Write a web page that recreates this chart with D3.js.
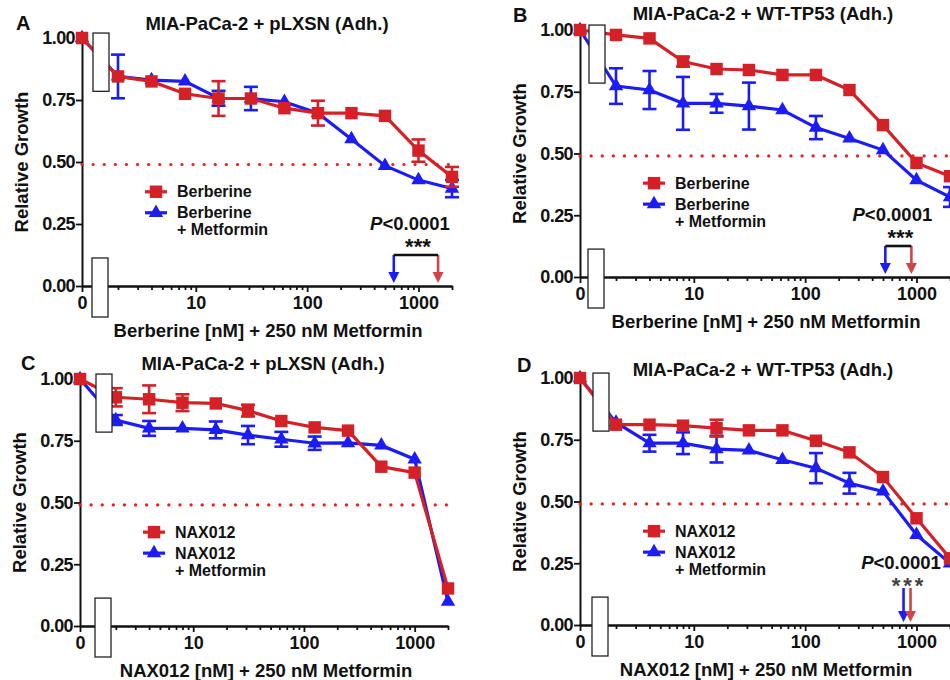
<!DOCTYPE html>
<html>
<head>
<meta charset="utf-8">
<script src="https://cdn.jsdelivr.net/npm/d3@7"></script>
<style>
  body { margin: 0; background: #fff; }
  svg text { font-family: "Liberation Sans", Arial, sans-serif; font-weight: bold; fill: #111; }
</style>
</head>
<body>
<div id="chart"></div>
<script>
// concentrations (nM), 0 = untreated control
const conc = [0, 2, 4, 8, 16, 31.25, 62.5, 125, 250, 500, 1000, 2000];

// A - Berberine on MIA-PaCa-2 + pLXSN
const berbA        = [1.00, 0.845, 0.825, 0.775, 0.756, 0.756, 0.717, 0.697, 0.697, 0.686, 0.546, 0.440];
const berbA_err    = [0, 0.01, 0.01, 0.015, 0.07, 0.01, 0.01, 0.05, 0.01, 0.01, 0.045, 0.04];
const berbMetA     = [1.00, 0.845, 0.830, 0.825, 0.757, 0.756, 0.743, 0.697, 0.592, 0.485, 0.427, 0.393];
const berbMetA_err = [0, 0.088, 0.01, 0.01, 0.03, 0.047, 0.01, 0.01, 0.01, 0.01, 0.01, 0.035];
const icA = [600, 1500];

// B - Berberine on MIA-PaCa-2 + WT-TP53
const berbB        = [1.00, 0.980, 0.966, 0.872, 0.842, 0.838, 0.818, 0.818, 0.757, 0.615, 0.462, 0.408];
const berbB_err    = [0, 0.01, 0.01, 0.02, 0.01, 0.01, 0.01, 0.01, 0.01, 0.01, 0.01, 0.01];
const berbMetB     = [1.00, 0.773, 0.757, 0.703, 0.703, 0.692, 0.676, 0.605, 0.561, 0.514, 0.392, 0.324];
const berbMetB_err = [0, 0.072, 0.077, 0.107, 0.038, 0.095, 0.01, 0.047, 0.01, 0.01, 0.01, 0.04];
const icB = [525, 900];

// C - NAX012 on MIA-PaCa-2 + pLXSN
const naxC        = [1.00, 0.926, 0.918, 0.904, 0.901, 0.872, 0.830, 0.804, 0.791, 0.645, 0.621, 0.152];
const naxC_err    = [0, 0.037, 0.056, 0.034, 0.01, 0.024, 0.01, 0.01, 0.01, 0.01, 0.01, 0.01];
const naxMetC     = [1.00, 0.834, 0.800, 0.800, 0.794, 0.773, 0.756, 0.740, 0.741, 0.731, 0.675, 0.099];
const naxMetC_err = [0, 0.02, 0.03, 0.01, 0.034, 0.037, 0.03, 0.027, 0.01, 0.01, 0.01, 0.01];

// D - NAX012 on MIA-PaCa-2 + WT-TP53
const naxD        = [1.00, 0.811, 0.811, 0.807, 0.797, 0.788, 0.788, 0.746, 0.699, 0.599, 0.432, 0.270];
const naxD_err    = [0, 0.01, 0.01, 0.01, 0.034, 0.01, 0.01, 0.01, 0.01, 0.01, 0.01, 0.01];
const naxMetD     = [1.00, 0.820, 0.736, 0.736, 0.712, 0.707, 0.669, 0.635, 0.574, 0.541, 0.365, 0.250];
const naxMetD_err = [0, 0.01, 0.034, 0.044, 0.054, 0.01, 0.01, 0.061, 0.042, 0.01, 0.01, 0.01];
const icD = [765, 884];

const yTicks = [0, 0.25, 0.5, 0.75, 1.0];
const xLabelTicks = [10, 100, 1000];
const halfMax = 0.49;

var RED = "#d42127", BLUE = "#1c1cf5", RED_ARROW = "#d04545";

var svg = d3.select("#chart").append("svg")
  .attr("width", 950)
  .attr("height", 680);

var panels = [
  {letter: "A", title: "MIA-PaCa-2 + pLXSN (Adh.)", drug: "Berberine", red: berbA, redErr: berbA_err, blue: berbMetA, blueErr: berbMetA_err,
   ic: icA, bracket: true, left: 82, right: 452, top: 38, bottom: 286, brk: 11, titleX: 267, titleY: 23, letterX: 16, letterY: 23},
  {letter: "B", title: "MIA-PaCa-2 + WT-TP53 (Adh.)", drug: "Berberine", red: berbB, redErr: berbB_err, blue: berbMetB, blueErr: berbMetB_err,
   ic: icB, bracket: true, left: 580, right: 950, top: 30, bottom: 277, brk: 9, titleX: 763, titleY: 13, letterX: 513, letterY: 15},
  {letter: "C", title: "MIA-PaCa-2 + pLXSN (Adh.)", drug: "NAX012", red: naxC, redErr: naxC_err, blue: naxMetC, blueErr: naxMetC_err,
   ic: null, bracket: false, left: 80, right: 448, top: 379, bottom: 626, brk: 16, titleX: 263, titleY: 363, letterX: 21, letterY: 363},
  {letter: "D", title: "MIA-PaCa-2 + WT-TP53 (Adh.)", drug: "NAX012", red: naxD, redErr: naxD_err, blue: naxMetD, blueErr: naxMetD_err,
   ic: icD, bracket: false, left: 580, right: 950, top: 378, bottom: 625, brk: 13, titleX: 763, titleY: 369, letterX: 517, letterY: 365}
];

var xMin = 0.95;

panels.forEach(function(p) {
  var g = svg.append("g");

  var x = d3.scaleLog().domain([xMin, 2000]).range([p.left, p.right]);
  var y = d3.scaleLinear().domain([0, 1]).range([p.bottom, p.top]);
  // the 0 control sits at the start of the axis
  var xp = function(c) { return c === 0 ? x(xMin) : x(c); };

  // y axis
  var yAx = g.append("g")
    .attr("transform", "translate(" + p.left + ",0)")
    .call(d3.axisLeft(y).tickValues(yTicks).tickFormat(d3.format(".2f")).tickSize(6).tickPadding(1).tickSizeOuter(0));
  yAx.selectAll("text").style("font-size", "18px").attr("letter-spacing", "-0.6px");

  // x axis: minor ticks then major labelled ticks
  var minor = [];
  [1, 10, 100, 1000].forEach(function(dec) {
    for (var k = 2; k <= 9; k++) if (dec * k <= 2000) minor.push(dec * k);
  });
  g.append("g")
    .attr("transform", "translate(0," + p.bottom + ")")
    .call(d3.axisBottom(x).tickValues(minor).tickFormat("").tickSize(4).tickSizeOuter(0));
  var xAx = g.append("g")
    .attr("transform", "translate(0," + p.bottom + ")")
    .call(d3.axisBottom(x).tickValues([xMin].concat(xLabelTicks))
      .tickFormat(function(d) { return d === xMin ? "0" : d; })
      .tickSize(6).tickPadding(4).tickSizeOuter(0));
  xAx.selectAll("text").style("font-size", "18px");
  g.selectAll(".domain, .tick line").attr("stroke", "#111").attr("stroke-width", 2);
  g.selectAll(".tick line").attr("stroke-width", 1.8);

  // half max dotted line
  g.append("line")
    .attr("x1", p.left).attr("x2", x(2000))
    .attr("y1", y(halfMax)).attr("y2", y(halfMax))
    .attr("stroke", "#e02424").attr("stroke-width", 3.2)
    .attr("stroke-linecap", "round")
    .attr("stroke-dasharray", "0.1,11");

  var line = d3.line()
    .x(function(d) { return xp(d.c); })
    .y(function(d) { return y(d.v); });

  function series(vals, errs, color, symbol) {
    var data = conc.map(function(c, i) { return {c: c, v: vals[i], e: errs[i]}; });
    var sg = g.append("g");
    sg.append("path").datum(data)
      .attr("d", line).attr("fill", "none")
      .attr("stroke", color).attr("stroke-width", 3.2);
    // error bars
    var eb = sg.selectAll("g.eb").data(data.filter(function(d) { return d.e > 0.015; }))
      .enter().append("g").attr("stroke", color).attr("stroke-width", 2.6);
    eb.append("line")
      .attr("x1", function(d) { return xp(d.c); }).attr("x2", function(d) { return xp(d.c); })
      .attr("y1", function(d) { return y(d.v - d.e); }).attr("y2", function(d) { return y(d.v + d.e); });
    [1, -1].forEach(function(s) {
      eb.append("line")
        .attr("x1", function(d) { return xp(d.c) - 7; }).attr("x2", function(d) { return xp(d.c) + 7; })
        .attr("y1", function(d) { return y(d.v + s * d.e); }).attr("y2", function(d) { return y(d.v + s * d.e); });
    });
    sg.selectAll("path.mk").data(data).enter().append("path")
      .attr("class", "mk")
      .attr("transform", function(d) { return "translate(" + xp(d.c) + "," + y(d.v) + ")"; })
      .attr("d", symbol)
      .attr("fill", color);
  }

  var tri = d3.symbol(d3.symbolTriangle).size(90)();
  var sq = d3.symbol(d3.symbolSquare).size(155)();

  series(p.blue, p.blueErr, BLUE, tri);
  series(p.red, p.redErr, RED, sq);

  // axis break boxes
  var bx = p.left + p.brk;
  g.append("rect")
    .attr("x", bx).attr("width", 16)
    .attr("y", y(1.02)).attr("height", y(0.785) - y(1.02))
    .attr("fill", "#fff").attr("stroke", "#222").attr("stroke-width", 1.3);
  g.append("rect")
    .attr("x", bx - 1).attr("width", 16)
    .attr("y", y(0.113)).attr("height", p.bottom + 31 - y(0.113))
    .attr("fill", "#fff").attr("stroke", "#222").attr("stroke-width", 1.3);

  // titles
  g.append("text").attr("x", p.letterX).attr("y", p.letterY)
    .attr("dominant-baseline", "central").style("font-size", "20px").text(p.letter);
  g.append("text").attr("x", p.titleX).attr("y", p.titleY)
    .attr("text-anchor", "middle").attr("dominant-baseline", "central")
    .style("font-size", "18.5px").text(p.title);
  g.append("text")
    .attr("transform", "translate(" + (p.left - 61) + "," + ((p.top + p.bottom) / 2) + ")rotate(-90)")
    .attr("text-anchor", "middle").attr("dominant-baseline", "central")
    .style("font-size", "18.5px").text("Relative Growth");
  g.append("text").attr("x", (p.left + 452 - 82 + p.left) / 2 + 1).attr("y", p.bottom + 44)
    .attr("text-anchor", "middle").attr("dominant-baseline", "central")
    .style("font-size", "18.5px")
    .text(p.drug + " [nM] + 250 nM Metformin");

  // legend
  var lx = p.left + 74, ly = y(0.38);
  [[RED, sq, p.drug, 0], [BLUE, tri, p.drug, 21]].forEach(function(l) {
    g.append("line").attr("x1", lx - 11).attr("x2", lx + 11)
      .attr("y1", ly + l[3]).attr("y2", ly + l[3])
      .attr("stroke", l[0]).attr("stroke-width", 3.2);
    g.append("path").attr("transform", "translate(" + lx + "," + (ly + l[3]) + ")")
      .attr("d", l[1]).attr("fill", l[0]);
    g.append("text").attr("x", lx + 21).attr("y", ly + l[3])
      .attr("dominant-baseline", "central").style("font-size", "16px").text(l[2]);
  });
  g.append("text").attr("x", lx + 21).attr("y", ly + 38)
    .attr("dominant-baseline", "central").style("font-size", "16px").text("+ Metformin");

  // IC50 arrows and significance
  if (p.ic) {
    var xb = x(p.ic[0]), xr = x(p.ic[1]), mid = (xb + xr) / 2;
    var yTop = p.bracket ? p.bottom - 31 : p.bottom - 37;
    var tip = p.bottom - 3;
    [[xb, BLUE], [xr, RED_ARROW]].forEach(function(a) {
      g.append("line").attr("x1", a[0]).attr("x2", a[0])
        .attr("y1", yTop).attr("y2", tip - 8)
        .attr("stroke", a[1]).attr("stroke-width", 2.6);
      g.append("path")
        .attr("d", "M" + (a[0] - 5.5) + "," + (tip - 11) + "L" + (a[0] + 5.5) + "," + (tip - 11) + "L" + a[0] + "," + tip + "Z")
        .attr("fill", a[1]);
    });
    if (p.bracket) {
      g.append("line").attr("x1", xb).attr("x2", xr)
        .attr("y1", yTop).attr("y2", yTop)
        .attr("stroke", "#111").attr("stroke-width", 2.6);
    }
    var pt = g.append("text").attr("x", mid - 6).attr("y", p.bottom - 63)
      .attr("text-anchor", "middle").attr("dominant-baseline", "central")
      .style("font-size", "18.5px");
    pt.append("tspan").style("font-style", "italic").text("P");
    pt.append("tspan").text("<0.0001");
    g.append("text").attr("x", mid + 2).attr("y", p.bottom - 40)
      .attr("text-anchor", "middle").attr("dominant-baseline", "central")
      .style("font-size", "22px")
      .style("fill", p.bracket ? "#111" : "#444")
      .attr("letter-spacing", p.bracket ? "0px" : "3px")
      .text("***");
  }
});
</script>
</body>
</html>
